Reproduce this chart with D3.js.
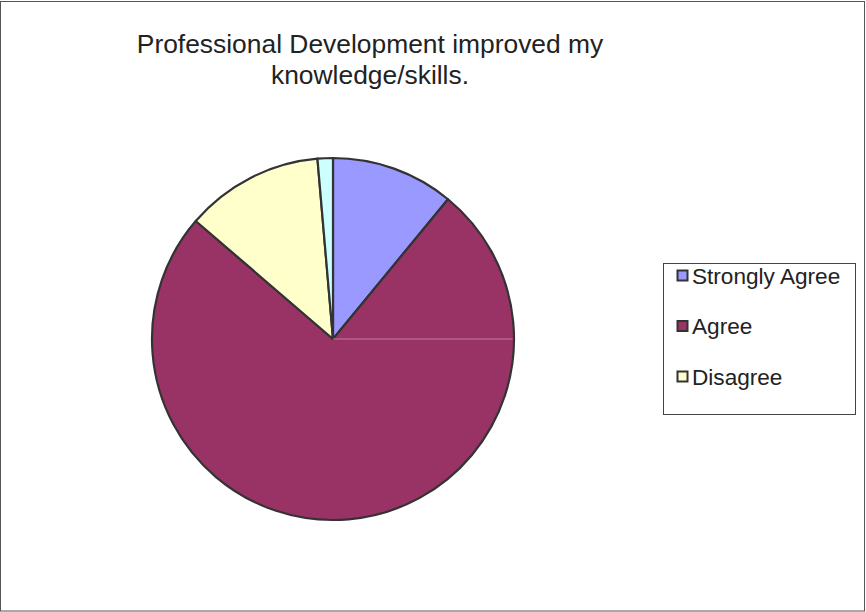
<!DOCTYPE html>
<html>
<head>
<meta charset="utf-8">
<script src="https://cdn.jsdelivr.net/npm/d3@7"></script>
<style>
  body { margin: 0; background: #fff; }
  svg { display: block; font-family: "Liberation Sans", Arial, sans-serif; }
</style>
</head>
<body>
<svg width="866" height="612"></svg>
<script>
// answer categories and counts
const categories = ["Strongly Agree", "Agree", "Disagree", "Strongly Disagree"];
const counts = [8, 55, 9, 1];
const sliceColors = ["#9999FF", "#993366", "#FFFFCC", "#CCFFFF"];
const legendItems = ["Strongly Agree", "Agree", "Disagree"];
const titleLines = ["Professional Development improved my", "knowledge/skills."];

const svg = d3.select("svg");

// outer chart frame
svg.append("rect")
  .attr("x", 0.5).attr("y", 1.5)
  .attr("width", 864).attr("height", 609.5)
  .attr("fill", "none")
  .attr("stroke", "#555")
  .attr("stroke-width", 1);

// title
svg.append("g")
  .selectAll("text")
  .data(titleLines)
  .enter()
  .append("text")
  .attr("x", 370)
  .attr("y", (d, i) => 53 + i * 31)
  .attr("text-anchor", "middle")
  .attr("font-size", "26.4px")
  .attr("fill", "#222")
  .text(d => d);

const data = categories.map((c, i) => ({ cat: c, value: counts[i] }));
const color = d3.scaleOrdinal().domain(categories).range(sliceColors);

const radius = 181;
const pie = d3.pie().value(d => d.value).sort(null);
const arc = d3.arc().innerRadius(0).outerRadius(radius);

const pieG = svg.append("g").attr("transform", "translate(333,339)");

pieG.selectAll("path")
  .data(pie(data))
  .enter()
  .append("path")
  .attr("d", arc)
  .attr("fill", d => color(d.data.cat))
  .attr("stroke", "#333")
  .attr("stroke-width", 2.2)
  .attr("stroke-linejoin", "round");

// faint seam line visible in the original at 3 o'clock
pieG.append("line")
  .attr("x1", 0).attr("y1", 0)
  .attr("x2", radius - 1.5).attr("y2", 0)
  .attr("stroke", "#c878a0")
  .attr("stroke-width", 1);

// legend
const legend = svg.append("g").attr("transform", "translate(663,263)");
legend.append("rect")
  .attr("x", 0.5).attr("y", 0.5)
  .attr("width", 192).attr("height", 151)
  .attr("fill", "#fff")
  .attr("stroke", "#444")
  .attr("stroke-width", 1);

const rows = legend.selectAll("g.item")
  .data(legendItems)
  .enter()
  .append("g")
  .attr("class", "item")
  .attr("transform", (d, i) => "translate(0," + (13 + i * 50.5) + ")");

rows.append("rect")
  .attr("x", 14.5).attr("y", -5.5)
  .attr("width", 10).attr("height", 10)
  .attr("fill", d => color(d))
  .attr("stroke", "#333")
  .attr("stroke-width", 2);

rows.append("text")
  .attr("x", 29)
  .attr("y", 7.5)
  .attr("font-size", "22.6px")
  .attr("fill", "#222")
  .text(d => d);
</script>
</body>
</html>
